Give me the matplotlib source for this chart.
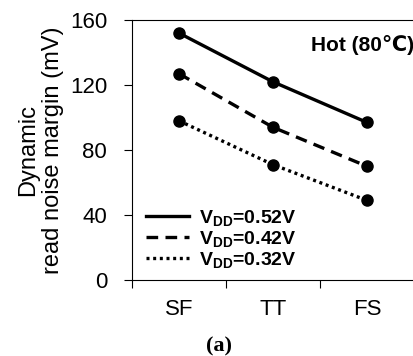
import matplotlib
matplotlib.use('Agg')
import matplotlib.pyplot as plt

plt.rcParams['font.family'] = ['Liberation Sans', 'DejaVu Sans']
plt.rcParams['mathtext.fontset'] = 'custom'
plt.rcParams['mathtext.rm'] = 'Liberation Sans'
plt.rcParams['mathtext.bf'] = 'Liberation Sans:bold'

corners = ['SF', 'TT', 'FS']
v052 = [152, 122, 97]
v042 = [127, 94, 70]
v032 = [98, 71, 49]
labels = [r'$\mathbf{V_{DD}}$=0.52V', r'$\mathbf{V_{DD}}$=0.42V', r'$\mathbf{V_{DD}}$=0.32V']

fig = plt.figure(figsize=(4.14, 3.56), dpi=100)
ax = fig.add_axes([0.319, 0.2135, 0.681, 0.73])

x = range(len(corners))
ax.plot(x, v052, '-', color='black', lw=2.4, marker='o', ms=8, label=labels[0])
ax.plot(x, v042, '--', color='black', lw=2.4, marker='o', ms=8, dashes=(3.5, 2.2), label=labels[1])
ax.plot(x, v032, ':', color='black', lw=2.4, marker='o', ms=8, dashes=(0.9, 1.1), label=labels[2])

ax.set_ylim(0, 160)
ax.set_yticks([0, 40, 80, 120, 160])
ax.set_xlim(-0.5, 2.43)
ax.set_xticks([-0.5, 0.5, 1.5, 2.5])
ax.set_xticklabels([])
ax.set_xticks(list(x), minor=True)
ax.set_xticklabels(corners, minor=True)
ax.tick_params(axis='x', which='minor', length=0, pad=14, labelsize=16)
ax.tick_params(axis='x', which='major', length=6, direction='out')
ax.tick_params(axis='y', length=6, labelsize=16, pad=12)
ax.spines['right'].set_visible(False)

ax.set_ylabel('Dynamic\nread noise margin (mV)', fontsize=17, labelpad=4, linespacing=1.2)

ax.text(1.0, 0.905, 'Hot (80\u2103)', transform=ax.transAxes, ha='right', va='center',
        fontsize=15, fontweight='bold')

leg = ax.legend(loc='lower left', bbox_to_anchor=(0.05, 0.04), frameon=False,
                fontsize=14, handlelength=2.2, handletextpad=0.5,
                labelspacing=0.05, borderaxespad=0, borderpad=0)
for t in leg.get_texts():
    t.set_fontweight('bold')
for h in leg.legend_handles:
    h.set_marker('')

fig.text(0.529, 0.028, '(a)', ha='center', va='center', fontsize=16, fontweight='bold',
         family='Liberation Serif')

fig.savefig('out.png', dpi=100)
